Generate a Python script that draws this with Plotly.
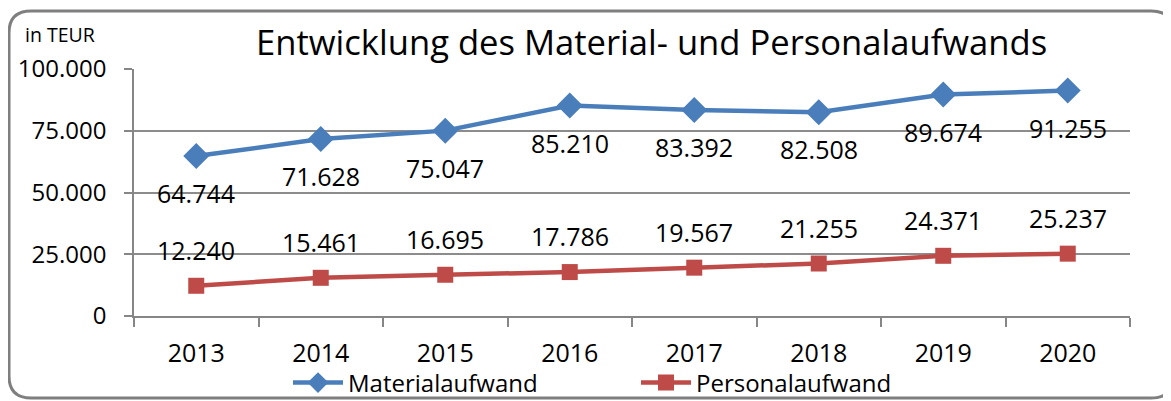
import plotly.graph_objects as go

years = ["2013", "2014", "2015", "2016", "2017", "2018", "2019", "2020"]
material = [64744, 71628, 75047, 85210, 83392, 82508, 89674, 91255]
personal = [12240, 15461, 16695, 17786, 19567, 21255, 24371, 25237]
y_ticks = [0, 25000, 50000, 75000, 100000]

BLUE = "#4a7ebb"
RED = "#be4b48"
FONT = "Open Sans"

OFF = 8  # page body margin
W, H = 1171 - OFF, 401 - OFF
# plot area in page pixels: x 134..1130, y 69..316
L, R, T = 134 - OFF, 1171 - 1130, 69 - OFF
B = H - (316 - OFF)
PW, PH = W - L - R, H - T - B


def px(x):
    return (x - OFF - L) / PW


def py(y):
    return (H - B - (y - OFF)) / PH


def de(v):
    return f"{v:,}".replace(",", ".")


fig = go.Figure()
fig.add_trace(go.Scatter(x=years, y=material, name="Materialaufwand", mode="lines+markers",
                         line=dict(color=BLUE, width=4.5),
                         marker=dict(symbol="diamond", size=20, color=BLUE)))
fig.add_trace(go.Scatter(x=years, y=personal, name="Personalaufwand", mode="lines+markers",
                         line=dict(color=RED, width=4.5),
                         marker=dict(symbol="square", size=16, color=RED)))

annotations = []
for i, v in enumerate(material):
    annotations.append(dict(xref="x", yref="y", x=i, y=v, text=de(v), showarrow=False,
                            yshift=-37, font=dict(family=FONT, size=25, color="#000")))
for i, v in enumerate(personal):
    annotations.append(dict(xref="x", yref="y", x=i, y=v, text=de(v), showarrow=False,
                            yshift=36, font=dict(family=FONT, size=25, color="#000")))
annotations.append(dict(xref="paper", yref="paper", x=px(23), y=py(34), xanchor="left",
                        yanchor="middle", text="in TEUR", showarrow=False,
                        font=dict(family=FONT, size=19.5, color="#000")))
annotations.append(dict(xref="paper", yref="paper", x=px(651), y=py(42), xanchor="center",
                        yanchor="middle", showarrow=False,
                        text="Entwicklung des Material- und Personalaufwands",
                        font=dict(family=FONT, size=34.6, color="#000")))

# rounded border
x0, x1, y0, y1 = px(9), px(1173), py(11), py(398)
rx, ry = 22 / PW, 22 / PH
path = (f"M {x0+rx},{y0} L {x1-rx},{y0} Q {x1},{y0} {x1},{y0-ry} "
        f"L {x1},{y1+ry} Q {x1},{y1} {x1-rx},{y1} L {x0+rx},{y1} "
        f"Q {x0},{y1} {x0},{y1+ry} L {x0},{y0-ry} Q {x0},{y0} {x0+rx},{y0} Z")

fig.update_layout(
    template="none",
    width=W, height=H,
    autosize=False,
    margin=dict(l=L, r=R, t=T, b=B, pad=0, autoexpand=False),
    paper_bgcolor="white", plot_bgcolor="white",
    separators=",.",
    font=dict(family=FONT, size=25, color="#000"),
    showlegend=True,
    legend=dict(orientation="h", x=px(636), xanchor="center", y=py(383), yanchor="middle",
                font=dict(family=FONT, size=24, color="#000"), entrywidth=283,
                itemwidth=50, bgcolor="rgba(0,0,0,0)"),
    annotations=annotations,
    shapes=[dict(type="path", xref="paper", yref="paper", path=path,
                 line=dict(color="#7f7f7f", width=3), layer="below")],
    xaxis=dict(type="category", showgrid=False, showline=True, linecolor="#868686",
               linewidth=1.5, ticks="outside", tickson="boundaries", ticklen=9,
               tickcolor="#868686", tickwidth=1.5, tickfont=dict(size=25),
               ticklabelstandoff=14,
               range=[-0.5, len(years) - 0.5], automargin=False),
    yaxis=dict(range=[0, 100000], tickvals=y_ticks, tickformat=",d", showgrid=True,
               gridcolor="#8c8c8c", gridwidth=1.5, showline=True, linecolor="#868686",
               linewidth=1.5, ticks="outside", ticklen=8, tickcolor="#868686",
               tickwidth=1.5, tickfont=dict(size=24), ticklabelstandoff=13,
               zeroline=False, automargin=False),
)

fig.write_html("out.html")
